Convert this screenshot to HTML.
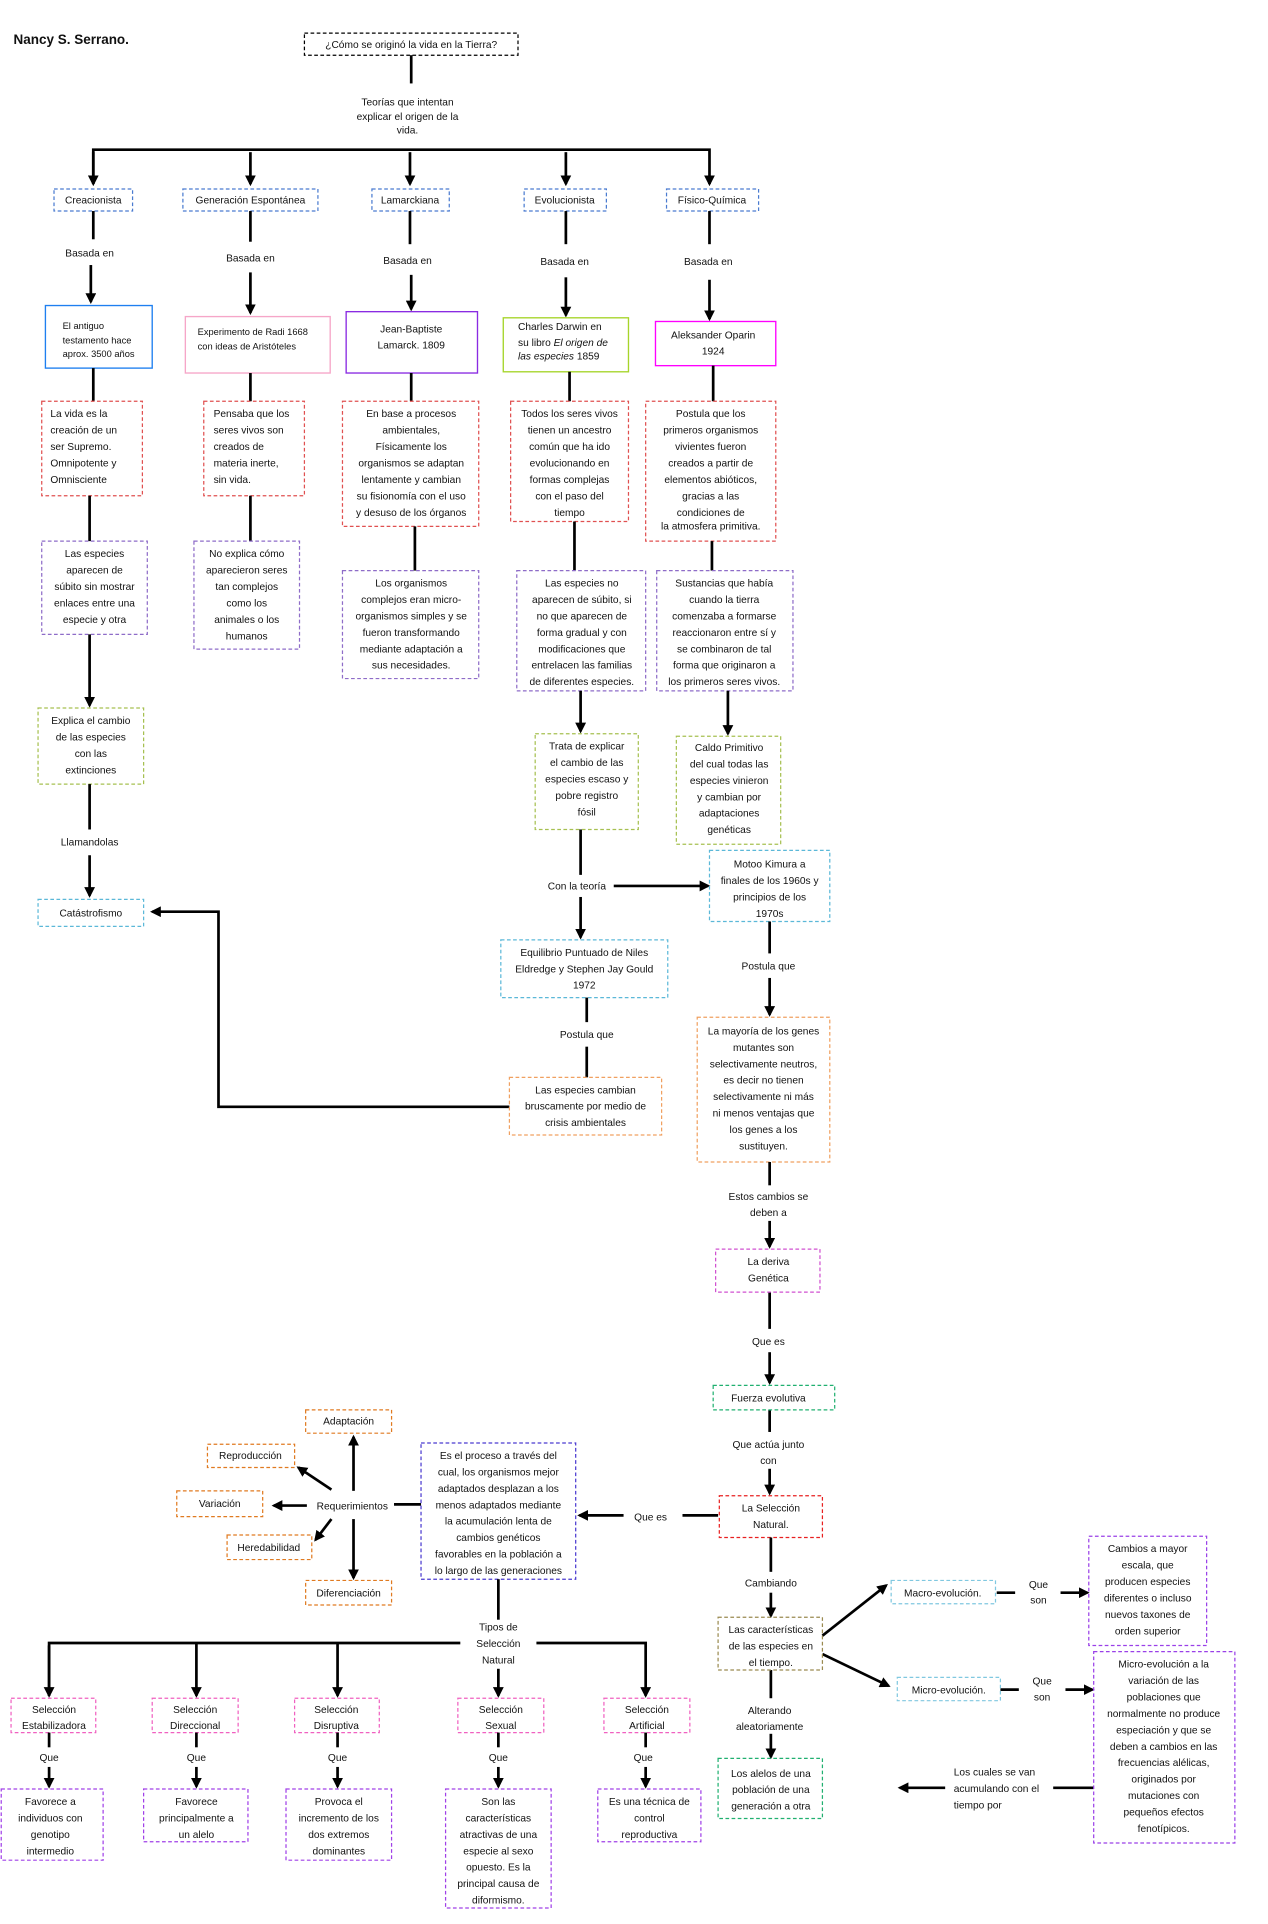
<!DOCTYPE html>
<html><head><meta charset="utf-8"><style>
html,body{margin:0;padding:0;background:#fff;}
svg{display:block;}
text{font-family:"Liberation Sans",sans-serif;font-size:8.3px;fill:#111;}
.c{text-anchor:middle;}
.d{fill:none;stroke-width:1;stroke-dasharray:3 2;}
.s{fill:none;stroke-width:1.1;}
.l{stroke:#000;stroke-width:2.2;fill:none;}
</style></head><body>
<svg width="1268" height="1924" viewBox="0 0 1033 1568" preserveAspectRatio="none" xmlns="http://www.w3.org/2000/svg">
<defs><marker id="a" markerWidth="4" markerHeight="4" refX="3.2" refY="2" orient="auto" markerUnits="strokeWidth"><path d="M0,0 L4,2 L0,4 z" fill="#000"/></marker></defs>

<text x="11" y="36" style="font-weight:bold;font-size:11px">Nancy S. Serrano.</text>
<rect x="248" y="27" width="174" height="18" class="d" stroke="#000"/>
<text x="335" y="39" class="c">¿Cómo se originó la vida en la Tierra?</text>
<line x1="335" y1="45" x2="335" y2="68" class="l"/>
<text class="c" x="332" y="86">Teorías que intentan<tspan x="332" dy="12">explicar el origen de la</tspan><tspan x="332" dy="11">vida.</tspan></text>
<polyline points="76,150 76,122 578,122 578,150" class="l" marker-end="url(#a)"/>
<line x1="76" y1="124" x2="76" y2="150" class="l" marker-end="url(#a)"/>
<line x1="204" y1="124" x2="204" y2="150" class="l" marker-end="url(#a)"/>
<line x1="334" y1="124" x2="334" y2="150" class="l" marker-end="url(#a)"/>
<line x1="461" y1="124" x2="461" y2="150" class="l" marker-end="url(#a)"/>

<g stroke="#4a7bd0">
<rect x="44" y="154" width="64" height="18" class="d"/>
<rect x="149" y="154" width="110" height="18" class="d"/>
<rect x="303" y="154" width="63" height="18" class="d"/>
<rect x="427" y="154" width="67" height="18" class="d"/>
<rect x="543" y="154" width="75" height="18" class="d"/>
</g>
<text class="c" x="76" y="166">Creacionista</text>
<text class="c" x="204" y="166">Generación Espontánea</text>
<text class="c" x="334" y="166">Lamarckiana</text>
<text class="c" x="460" y="166">Evolucionista</text>
<text class="c" x="580" y="166">Físico-Química</text>

<g class="l">
<line x1="76" y1="172" x2="76" y2="195"/><line x1="204" y1="172" x2="204" y2="197"/>
<line x1="334" y1="172" x2="334" y2="199"/><line x1="461" y1="172" x2="461" y2="199"/>
<line x1="578" y1="172" x2="578" y2="199"/>
<line x1="74" y1="216" x2="74" y2="246" marker-end="url(#a)"/>
<line x1="204" y1="222" x2="204" y2="255" marker-end="url(#a)"/>
<line x1="335" y1="224" x2="335" y2="252" marker-end="url(#a)"/>
<line x1="461" y1="226" x2="461" y2="257" marker-end="url(#a)"/>
<line x1="578" y1="228" x2="578" y2="260" marker-end="url(#a)"/>
</g>
<text class="c" x="73" y="209">Basada en</text>
<text class="c" x="204" y="213">Basada en</text>
<text class="c" x="332" y="215">Basada en</text>
<text class="c" x="460" y="216">Basada en</text>
<text class="c" x="577" y="216">Basada en</text>

<rect x="37" y="249" width="87" height="51" class="s" stroke="#1e7ff0"/>
<text x="51" y="268" style="font-size:7.6px">El antiguo<tspan x="51" dy="12">testamento hace</tspan><tspan x="51" dy="11">aprox. 3500 años</tspan></text>
<rect x="151" y="258" width="118" height="46" class="s" stroke="#f6a6c8"/>
<text x="161" y="273" style="font-size:7.6px">Experimento de Radi 1668<tspan x="161" dy="12">con ideas de Aristóteles</tspan></text>
<rect x="282" y="254" width="107" height="50" class="s" stroke="#8a2be2"/>
<text class="c" x="335" y="271">Jean-Baptiste<tspan x="335" dy="13">Lamarck. 1809</tspan></text>
<rect x="410" y="259" width="102" height="44" class="s" stroke="#a6d52a"/>
<text x="422" y="269">Charles Darwin  en<tspan x="422" dy="13">su libro </tspan><tspan font-style="italic">El origen de</tspan><tspan x="422" dy="11" font-style="italic">las especies</tspan><tspan>   1859</tspan></text>
<rect x="534" y="262" width="98" height="36" class="s" stroke="#ff00ff"/>
<text class="c" x="581" y="276">Aleksander Oparin<tspan x="581" dy="13">1924</tspan></text>

<g class="l">
<line x1="76" y1="300" x2="76" y2="327"/><line x1="204" y1="304" x2="204" y2="327"/>
<line x1="335" y1="304" x2="335" y2="327"/><line x1="464" y1="303" x2="464" y2="327"/>
<line x1="581" y1="298" x2="581" y2="327"/>
</g>
<g stroke="#e05050">
<rect x="34" y="327" width="82" height="77" class="d"/>
<rect x="166" y="327" width="82" height="77" class="d"/>
<rect x="279" y="327" width="111" height="102" class="d"/>
<rect x="416" y="327" width="96" height="98" class="d"/>
<rect x="526" y="327" width="106" height="114" class="d"/>
</g>
<text x="41" y="340">La vida es la<tspan x="41" dy="13.4">creación de un</tspan><tspan x="41" dy="13.4">ser Supremo.</tspan><tspan x="41" dy="13.4">Omnipotente y</tspan><tspan x="41" dy="13.4">Omnisciente</tspan></text>
<text x="174" y="340">Pensaba que los<tspan x="174" dy="13.4">seres vivos son</tspan><tspan x="174" dy="13.4">creados de</tspan><tspan x="174" dy="13.4">materia inerte,</tspan><tspan x="174" dy="13.4">sin vida.</tspan></text>
<text class="c" x="335" y="340">En base a procesos<tspan x="335" dy="13.4">ambientales,</tspan><tspan x="335" dy="13.4">Físicamente los</tspan><tspan x="335" dy="13.4">organismos se adaptan</tspan><tspan x="335" dy="13.4">lentamente y cambian</tspan><tspan x="335" dy="13.4">su fisionomía con el uso</tspan><tspan x="335" dy="13.4">y desuso de los órganos</tspan></text>
<text class="c" x="464" y="340">Todos los seres vivos<tspan x="464" dy="13.4">tienen un ancestro</tspan><tspan x="464" dy="13.4">común que ha ido</tspan><tspan x="464" dy="13.4">evolucionando en</tspan><tspan x="464" dy="13.4">formas complejas</tspan><tspan x="464" dy="13.4">con el paso del</tspan><tspan x="464" dy="13.4">tiempo</tspan></text>
<text class="c" x="579" y="340">Postula que los<tspan x="579" dy="13.4">primeros organismos</tspan><tspan x="579" dy="13.4">vivientes fueron</tspan><tspan x="579" dy="13.4">creados a partir de</tspan><tspan x="579" dy="13.4">elementos abióticos,</tspan><tspan x="579" dy="13.4">gracias a las</tspan><tspan x="579" dy="13.4">condiciones de</tspan><tspan x="579" dy="11">la atmosfera primitiva.</tspan></text>

<g class="l">
<line x1="73" y1="404" x2="73" y2="441"/><line x1="204" y1="404" x2="204" y2="441"/>
<line x1="338" y1="429" x2="338" y2="465"/><line x1="468" y1="425" x2="468" y2="465"/>
<line x1="580" y1="441" x2="580" y2="465"/>
</g>
<g stroke="#8e6cc8">
<rect x="34" y="441" width="86" height="76" class="d"/>
<rect x="158" y="441" width="86" height="88" class="d"/>
<rect x="279" y="465" width="111" height="88" class="d"/>
<rect x="421" y="465" width="105" height="98" class="d"/>
<rect x="535" y="465" width="111" height="98" class="d"/>
</g>
<text class="c" x="77" y="454">Las especies<tspan x="77" dy="13.4">aparecen de</tspan><tspan x="77" dy="13.4">súbito sin mostrar</tspan><tspan x="77" dy="13.4">enlaces entre una</tspan><tspan x="77" dy="13.4">especie y otra</tspan></text>
<text class="c" x="201" y="454">No explica cómo<tspan x="201" dy="13.4">aparecieron seres</tspan><tspan x="201" dy="13.4">tan complejos</tspan><tspan x="201" dy="13.4">como los</tspan><tspan x="201" dy="13.4">animales o los</tspan><tspan x="201" dy="13.4">humanos</tspan></text>
<text class="c" x="335" y="478">Los organismos<tspan x="335" dy="13.4">complejos  eran micro-</tspan><tspan x="335" dy="13.4">organismos simples y se</tspan><tspan x="335" dy="13.4">fueron transformando</tspan><tspan x="335" dy="13.4">mediante adaptación a</tspan><tspan x="335" dy="13.4">sus necesidades.</tspan></text>
<text class="c" x="474" y="478">Las especies no<tspan x="474" dy="13.4">aparecen de súbito, si</tspan><tspan x="474" dy="13.4">no que aparecen de</tspan><tspan x="474" dy="13.4">forma gradual y con</tspan><tspan x="474" dy="13.4">modificaciones que</tspan><tspan x="474" dy="13.4">entrelacen las familias</tspan><tspan x="474" dy="13.4">de diferentes especies.</tspan></text>
<text class="c" x="590" y="478">Sustancias que había<tspan x="590" dy="13.4">cuando la tierra</tspan><tspan x="590" dy="13.4">comenzaba a formarse</tspan><tspan x="590" dy="13.4">reaccionaron entre sí y</tspan><tspan x="590" dy="13.4">se combinaron de tal</tspan><tspan x="590" dy="13.4">forma que originaron a</tspan><tspan x="590" dy="13.4">los primeros seres vivos.</tspan></text>

<g class="l">
<line x1="73" y1="517" x2="73" y2="575" marker-end="url(#a)"/>
<line x1="473" y1="563" x2="473" y2="596" marker-end="url(#a)"/>
<line x1="593" y1="563" x2="593" y2="598" marker-end="url(#a)"/>
</g>
<g stroke="#a6c050">
<rect x="31" y="577" width="86" height="62" class="d"/>
<rect x="436" y="598" width="84" height="78" class="d"/>
<rect x="551" y="600" width="85" height="88" class="d"/>
</g>
<text class="c" x="74" y="590">Explica el cambio<tspan x="74" dy="13.4">de las especies</tspan><tspan x="74" dy="13.4">con las</tspan><tspan x="74" dy="13.4">extinciones</tspan></text>
<text class="c" x="478" y="611">Trata de explicar<tspan x="478" dy="13.4">el cambio de las</tspan><tspan x="478" dy="13.4">especies escaso y</tspan><tspan x="478" dy="13.4">pobre registro</tspan><tspan x="478" dy="13.4">fósil</tspan></text>
<text class="c" x="594" y="612">Caldo Primitivo<tspan x="594" dy="13.4">del cual todas las</tspan><tspan x="594" dy="13.4">especies vinieron</tspan><tspan x="594" dy="13.4">y cambian por</tspan><tspan x="594" dy="13.4">adaptaciones</tspan><tspan x="594" dy="13.4">genéticas</tspan></text>

<g class="l">
<line x1="73" y1="639" x2="73" y2="676"/>
<line x1="73" y1="697" x2="73" y2="730" marker-end="url(#a)"/>
<line x1="473" y1="676" x2="473" y2="713"/>
<line x1="473" y1="731" x2="473" y2="764" marker-end="url(#a)"/>
<line x1="500" y1="722" x2="577" y2="722" marker-end="url(#a)"/>
</g>
<text class="c" x="73" y="689">Llamandolas</text>
<text class="c" x="470" y="725">Con la teoría</text>
<rect x="31" y="733" width="86" height="22" class="d" stroke="#5bb8d8"/>
<text class="c" x="74" y="747">Catástrofismo</text>
<rect x="578" y="693" width="98" height="58" class="d" stroke="#5bb8d8"/>
<text class="c" x="627" y="707">Motoo Kimura a<tspan x="627" dy="13.4">finales de los 1960s y</tspan><tspan x="627" dy="13.4">principios de los</tspan><tspan x="627" dy="13.4">1970s</tspan></text>
<rect x="408" y="766" width="136" height="47" class="d" stroke="#5bb8d8"/>
<text class="c" x="476" y="779">Equilibrio Puntuado de Niles<tspan x="476" dy="13.4">Eldredge y Stephen Jay Gould</tspan><tspan x="476" dy="13.4">1972</tspan></text>

<g class="l">
<line x1="478" y1="813" x2="478" y2="833"/>
<line x1="478" y1="853" x2="478" y2="878"/>
<polyline points="415,902 178,902 178,743 124,743" marker-end="url(#a)"/>
<line x1="627" y1="751" x2="627" y2="777"/>
<line x1="627" y1="797" x2="627" y2="827" marker-end="url(#a)"/>
</g>
<text class="c" x="478" y="846">Postula que</text>
<text class="c" x="626" y="790">Postula que</text>
<g stroke="#f0a060">
<rect x="415" y="878" width="124" height="47" class="d"/>
<rect x="568" y="829" width="108" height="118" class="d"/>
</g>
<text class="c" x="477" y="891">Las especies cambian<tspan x="477" dy="13.4">bruscamente por medio de</tspan><tspan x="477" dy="13.4">crisis ambientales</tspan></text>
<text class="c" x="622" y="843">La mayoría de los genes<tspan x="622" dy="13.4">mutantes son</tspan><tspan x="622" dy="13.4">selectivamente neutros,</tspan><tspan x="622" dy="13.4">es decir no tienen</tspan><tspan x="622" dy="13.4">selectivamente ni más</tspan><tspan x="622" dy="13.4">ni menos ventajas que</tspan><tspan x="622" dy="13.4">los genes a los</tspan><tspan x="622" dy="13.4">sustituyen.</tspan></text>

<g class="l">
<line x1="627" y1="947" x2="627" y2="966"/>
<line x1="627" y1="995" x2="627" y2="1016" marker-end="url(#a)"/>
<line x1="627" y1="1053" x2="627" y2="1083"/>
<line x1="627" y1="1102" x2="627" y2="1127" marker-end="url(#a)"/>
<line x1="627" y1="1149" x2="627" y2="1167"/>
<line x1="627" y1="1197" x2="627" y2="1217" marker-end="url(#a)"/>
</g>
<text class="c" x="626" y="978">Estos cambios se<tspan x="626" dy="13">deben a</tspan></text>
<rect x="583" y="1018" width="85" height="35" class="d" stroke="#d050d0"/>
<text class="c" x="626" y="1031">La deriva<tspan x="626" dy="13.4">Genética</tspan></text>
<text class="c" x="626" y="1096">Que es</text>
<rect x="581" y="1129" width="99" height="20" class="d" stroke="#20b070"/>
<text class="c" x="626" y="1142">Fuerza evolutiva</text>
<text class="c" x="626" y="1180">Que actúa junto<tspan x="626" dy="13">con</tspan></text>
<rect x="586" y="1219" width="84" height="34" class="d" stroke="#e82020"/>
<text class="c" x="628" y="1232">La Selección<tspan x="628" dy="13.4">Natural.</tspan></text>

<g class="l">
<line x1="585" y1="1235" x2="556" y2="1235"/>
<line x1="508" y1="1235" x2="472" y2="1235" marker-end="url(#a)"/>
<line x1="343" y1="1226" x2="321" y2="1226"/>
</g>
<text class="c" x="530" y="1239">Que es</text>
<rect x="343" y="1176" width="126" height="111" class="d" stroke="#4a3ad0"/>
<text class="c" x="406" y="1189">Es el proceso a través del<tspan x="406" dy="13.4">cual, los organismos mejor</tspan><tspan x="406" dy="13.4">adaptados desplazan a los</tspan><tspan x="406" dy="13.4">menos adaptados mediante</tspan><tspan x="406" dy="13.4">la acumulación lenta de</tspan><tspan x="406" dy="13.4">cambios genéticos</tspan><tspan x="406" dy="13.4">favorables en la población a</tspan><tspan x="406" dy="13.4">lo largo de las generaciones</tspan></text>
<text class="c" x="287" y="1230">Requerimientos</text>
<g class="l">
<line x1="288" y1="1215" x2="288" y2="1171" marker-end="url(#a)"/>
<line x1="270" y1="1214" x2="243" y2="1196" marker-end="url(#a)"/>
<line x1="250" y1="1227" x2="223" y2="1227" marker-end="url(#a)"/>
<line x1="270" y1="1238" x2="257" y2="1255" marker-end="url(#a)"/>
<line x1="288" y1="1238" x2="288" y2="1286" marker-end="url(#a)"/>
</g>
<g stroke="#e07a20">
<rect x="249" y="1149" width="70" height="19" class="d"/>
<rect x="169" y="1177" width="71" height="19" class="d"/>
<rect x="144" y="1215" width="70" height="21" class="d"/>
<rect x="185" y="1251" width="69" height="20" class="d"/>
<rect x="249" y="1288" width="70" height="20" class="d"/>
</g>
<text class="c" x="284" y="1161">Adaptación</text>
<text class="c" x="204" y="1189">Reproducción</text>
<text class="c" x="179" y="1228">Variación</text>
<text class="c" x="219" y="1264">Heredabilidad</text>
<text class="c" x="284" y="1301">Diferenciación</text>

<g class="l">
<line x1="628" y1="1253" x2="628" y2="1281"/>
<line x1="628" y1="1298" x2="628" y2="1317" marker-end="url(#a)"/>
<line x1="670" y1="1333" x2="722" y2="1292" marker-end="url(#a)"/>
<line x1="670" y1="1348" x2="724" y2="1374" marker-end="url(#a)"/>
<line x1="812" y1="1298" x2="827" y2="1298"/>
<line x1="864" y1="1298" x2="886" y2="1298" marker-end="url(#a)"/>
<line x1="815" y1="1377" x2="830" y2="1377"/>
<line x1="868" y1="1377" x2="890" y2="1377" marker-end="url(#a)"/>
<line x1="891" y1="1457" x2="858" y2="1457"/>
<line x1="770" y1="1457" x2="733" y2="1457" marker-end="url(#a)"/>
<line x1="628" y1="1361" x2="628" y2="1384"/>
<line x1="628" y1="1413" x2="628" y2="1432" marker-end="url(#a)"/>
</g>
<text class="c" x="628" y="1293">Cambiando</text>
<rect x="585" y="1318" width="85" height="43" class="d" stroke="#9a8a50"/>
<text class="c" x="628" y="1331">Las características<tspan x="628" dy="13.4">de las especies en</tspan><tspan x="628" dy="13.4">el tiempo.</tspan></text>
<rect x="726" y="1288" width="85" height="19" class="d" stroke="#80c8e0"/>
<text class="c" x="768" y="1301">Macro-evolución.</text>
<rect x="731" y="1367" width="84" height="19" class="d" stroke="#80c8e0"/>
<text class="c" x="773" y="1380">Micro-evolución.</text>
<text class="c" x="846" y="1294">Que<tspan x="846" dy="13">son</tspan></text>
<text class="c" x="849" y="1373">Que<tspan x="849" dy="13">son</tspan></text>
<g stroke="#9a40e8">
<rect x="887" y="1252" width="96" height="89" class="d"/>
<rect x="891" y="1346" width="115" height="156" class="d"/>
</g>
<text class="c" x="935" y="1265">Cambios a mayor<tspan x="935" dy="13.4">escala, que</tspan><tspan x="935" dy="13.4">producen especies</tspan><tspan x="935" dy="13.4">diferentes o incluso</tspan><tspan x="935" dy="13.4">nuevos taxones de</tspan><tspan x="935" dy="13.4">orden superior</tspan></text>
<text class="c" x="948" y="1359">Micro-evolución a la<tspan x="948" dy="13.4">variación de las</tspan><tspan x="948" dy="13.4">poblaciones que</tspan><tspan x="948" dy="13.4">normalmente no produce</tspan><tspan x="948" dy="13.4">especiación y que se</tspan><tspan x="948" dy="13.4">deben a cambios en las</tspan><tspan x="948" dy="13.4">frecuencias alélicas,</tspan><tspan x="948" dy="13.4">originados por</tspan><tspan x="948" dy="13.4">mutaciones con</tspan><tspan x="948" dy="13.4">pequeños efectos</tspan><tspan x="948" dy="13.4">fenotípicos.</tspan></text>
<text x="777" y="1447">Los cuales se van<tspan x="777" dy="13.4">acumulando con el</tspan><tspan x="777" dy="13.4">tiempo por</tspan></text>
<text class="c" x="627" y="1397">Alterando<tspan x="627" dy="13">aleatoriamente</tspan></text>
<rect x="585" y="1433" width="85" height="49" class="d" stroke="#20b070"/>
<text class="c" x="628" y="1448">Los alelos de una<tspan x="628" dy="13.4">población de  una</tspan><tspan x="628" dy="13.4">generación a otra</tspan></text>

<g class="l">
<line x1="406" y1="1287" x2="406" y2="1320"/>
<polyline points="40,1382 40,1339 375,1339"/>
<polyline points="437,1339 526,1339 526,1382" marker-end="url(#a)"/>
<line x1="40" y1="1341" x2="40" y2="1382" marker-end="url(#a)"/>
<line x1="160" y1="1339" x2="160" y2="1382" marker-end="url(#a)"/>
<line x1="275" y1="1339" x2="275" y2="1382" marker-end="url(#a)"/>
<line x1="406" y1="1360" x2="406" y2="1382" marker-end="url(#a)"/>
</g>
<text class="c" x="406" y="1329">Tipos de<tspan x="406" dy="13.4">Selección</tspan><tspan x="406" dy="13.4">Natural</tspan></text>
<g stroke="#f060c0">
<rect x="9" y="1384" width="69" height="28" class="d"/>
<rect x="124" y="1384" width="70" height="28" class="d"/>
<rect x="240" y="1384" width="69" height="28" class="d"/>
<rect x="373" y="1384" width="70" height="28" class="d"/>
<rect x="492" y="1384" width="70" height="28" class="d"/>
</g>
<text class="c" x="44" y="1396">Selección<tspan x="44" dy="13">Estabilizadora</tspan></text>
<text class="c" x="159" y="1396">Selección<tspan x="159" dy="13">Direccional</tspan></text>
<text class="c" x="274" y="1396">Selección<tspan x="274" dy="13">Disruptiva</tspan></text>
<text class="c" x="408" y="1396">Selección<tspan x="408" dy="13">Sexual</tspan></text>
<text class="c" x="527" y="1396">Selección<tspan x="527" dy="13">Artificial</tspan></text>
<g class="l">
<line x1="40" y1="1412" x2="40" y2="1424"/><line x1="40" y1="1440" x2="40" y2="1456" marker-end="url(#a)"/>
<line x1="160" y1="1412" x2="160" y2="1424"/><line x1="160" y1="1440" x2="160" y2="1456" marker-end="url(#a)"/>
<line x1="275" y1="1412" x2="275" y2="1424"/><line x1="275" y1="1440" x2="275" y2="1456" marker-end="url(#a)"/>
<line x1="406" y1="1412" x2="406" y2="1424"/><line x1="406" y1="1440" x2="406" y2="1456" marker-end="url(#a)"/>
<line x1="526" y1="1412" x2="526" y2="1424"/><line x1="526" y1="1440" x2="526" y2="1456" marker-end="url(#a)"/>
</g>
<text class="c" x="40" y="1435">Que</text><text class="c" x="160" y="1435">Que</text><text class="c" x="275" y="1435">Que</text><text class="c" x="406" y="1435">Que</text><text class="c" x="524" y="1435">Que</text>
<g stroke="#a040e8">
<rect x="1" y="1458" width="83" height="58" class="d"/>
<rect x="117" y="1458" width="85" height="43" class="d"/>
<rect x="233" y="1458" width="86" height="58" class="d"/>
<rect x="363" y="1458" width="86" height="97" class="d"/>
<rect x="487" y="1458" width="84" height="43" class="d"/>
</g>
<text class="c" x="41" y="1471">Favorece a<tspan x="41" dy="13.4">individuos con</tspan><tspan x="41" dy="13.4">genotipo</tspan><tspan x="41" dy="13.4">intermedio</tspan></text>
<text class="c" x="160" y="1471">Favorece<tspan x="160" dy="13.4">principalmente a</tspan><tspan x="160" dy="13.4">un alelo</tspan></text>
<text class="c" x="276" y="1471">Provoca el<tspan x="276" dy="13.4">incremento de los</tspan><tspan x="276" dy="13.4">dos extremos</tspan><tspan x="276" dy="13.4">dominantes</tspan></text>
<text class="c" x="406" y="1471">Son las<tspan x="406" dy="13.4">características</tspan><tspan x="406" dy="13.4">atractivas de una</tspan><tspan x="406" dy="13.4">especie al sexo</tspan><tspan x="406" dy="13.4">opuesto. Es la</tspan><tspan x="406" dy="13.4">principal causa de</tspan><tspan x="406" dy="13.4">diformismo.</tspan></text>
<text class="c" x="529" y="1471">Es una técnica de<tspan x="529" dy="13.4">control</tspan><tspan x="529" dy="13.4">reproductiva</tspan></text>
</svg>
</body></html>
